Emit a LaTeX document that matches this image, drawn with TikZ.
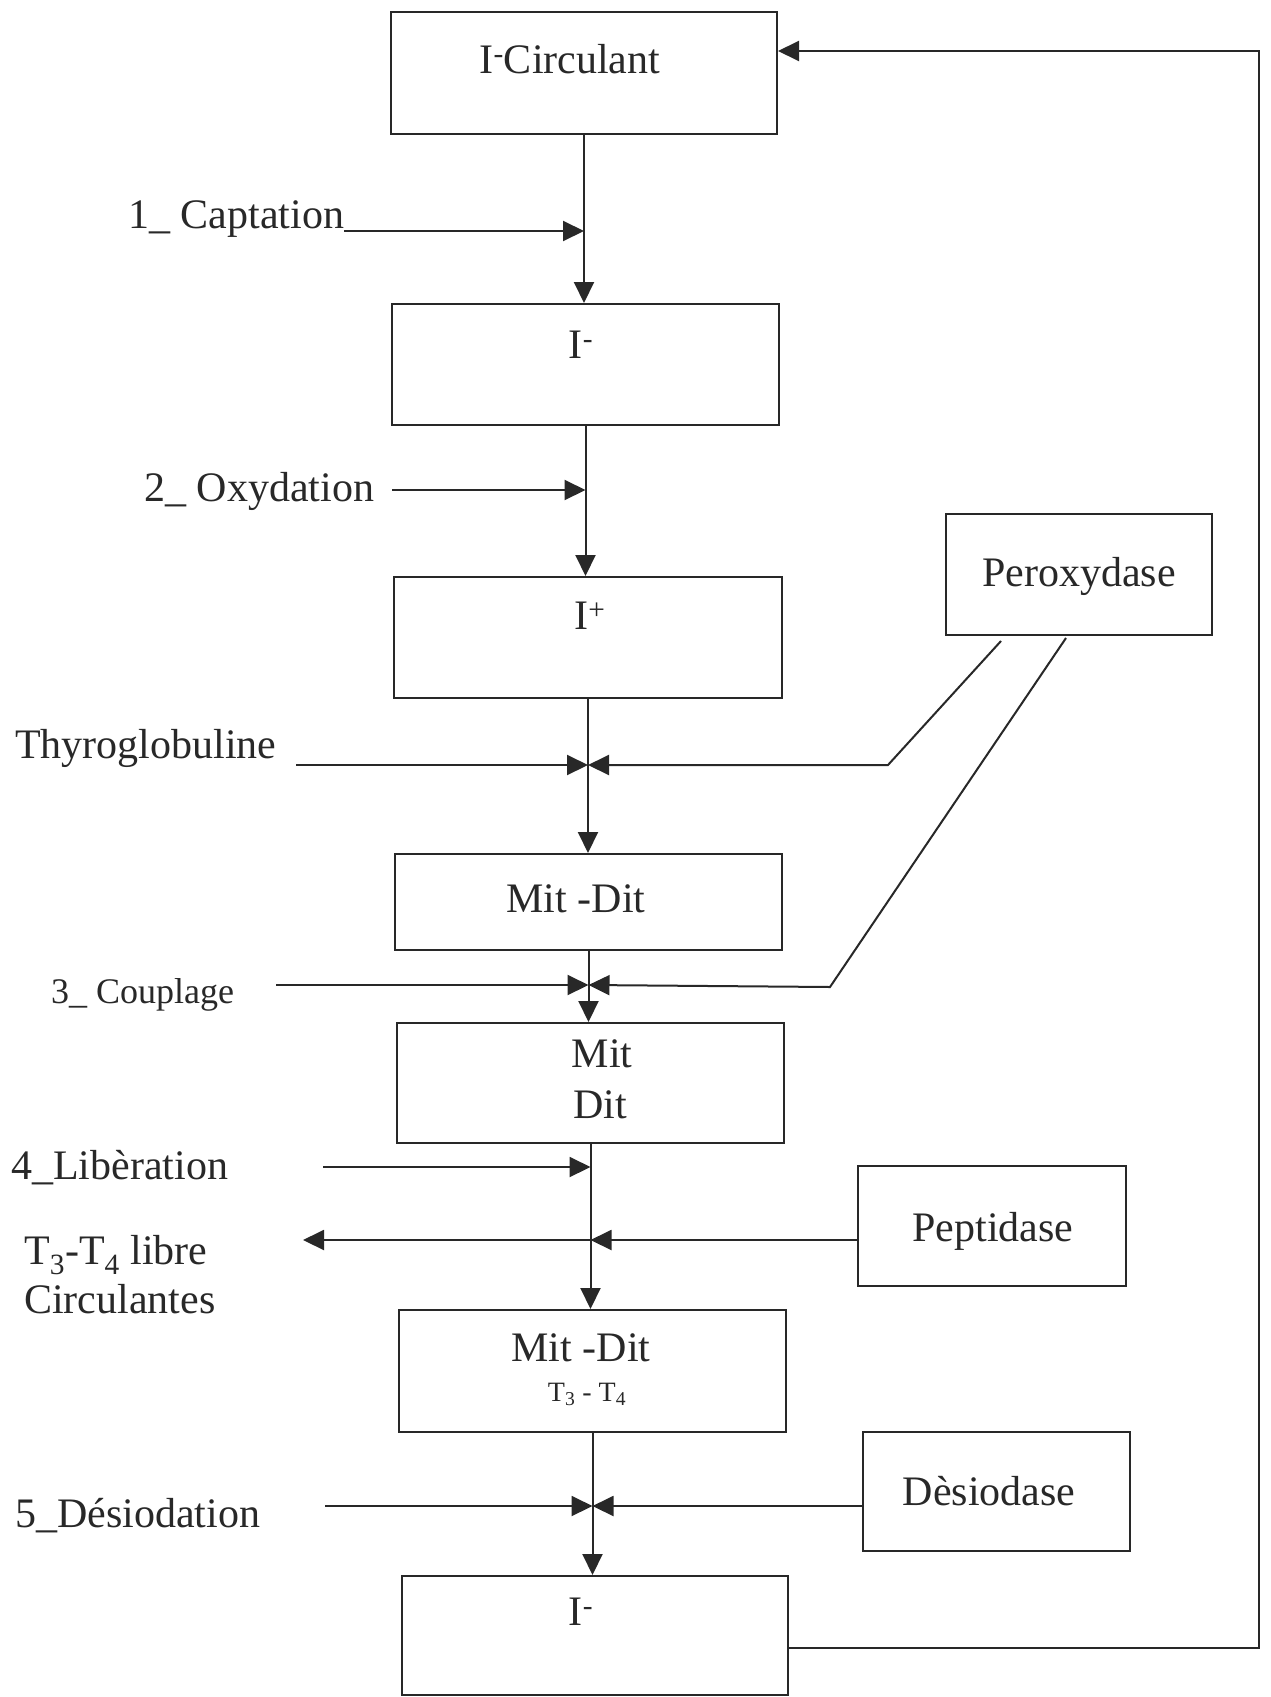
\documentclass[tikz,border=0pt]{standalone}
\usepackage{fontspec}
\setmainfont{Liberation Serif}
\usetikzlibrary{arrows.meta,calc}
\definecolor{inkc}{RGB}{40,40,40}
\begin{document}
\begin{tikzpicture}[x=1pt,y=-1pt,
  ink/.style={draw=inkc, line width=2pt},
  box/.style={ink, rectangle, inner sep=0pt},
  arr/.style={ink, -{Triangle[length=21pt,width=20pt]}},
  lbl/.style={inner sep=0pt, text=inkc, font=\fontsize{42}{50}\selectfont},
  small/.style={inner sep=0pt, text=inkc, font=\fontsize{36}{42}\selectfont},
  tiny/.style={inner sep=0pt, text=inkc, font=\fontsize{28}{32}\selectfont}
]
\useasboundingbox[fill=white] (0,0) rectangle (1271,1697);

% main boxes
\node[box, minimum width=386pt, minimum height=122pt] (b1) at (584,73) {};
\node[box, minimum width=387pt, minimum height=121pt] (b2) at (585.5,364.5) {};
\node[box, minimum width=388pt, minimum height=121pt] (b3) at (588,637.5) {};
\node[box, minimum width=387pt, minimum height=96pt] (b4) at (588.5,902) {};
\node[box, minimum width=387pt, minimum height=120pt] (b5) at (590.5,1083) {};
\node[box, minimum width=387pt, minimum height=122pt] (b6) at (592.5,1371) {};
\node[box, minimum width=386pt, minimum height=119pt] (b7) at (595,1635.5) {};
% enzyme boxes
\node[box, minimum width=266pt, minimum height=121pt] (pero) at (1079,574.5) {};
\node[box, minimum width=268pt, minimum height=120pt] (pept) at (992,1226) {};
\node[box, minimum width=267pt, minimum height=119pt] (desi) at (996.5,1491.5) {};

% box texts
\node[lbl, anchor=base] (t1) at (570,73) {I\textsuperscript{-}Circulant};
\node[lbl, anchor=base] (t2) at (581,358) {I\textsuperscript{-}};
\node[lbl, anchor=base] (t3) at (590,629) {I\textsuperscript{+}};
\node[lbl, anchor=base] (t4) at (576,912) {Mit -Dit};
\node[lbl, anchor=base] (t5a) at (602,1067) {Mit};
\node[lbl, anchor=base] (t5b) at (600,1118) {Dit};
\node[lbl, anchor=base] (t6a) at (581,1361) {Mit -Dit};
\node[tiny, anchor=base] (t6b) at (587,1401) {T\textsubscript{3} - T\textsubscript{4}};
\node[lbl, anchor=base] (t7) at (581,1625) {I\textsuperscript{-}};
\node[lbl, anchor=base] (tpero) at (1079,586) {Peroxydase};
\node[lbl, anchor=base] (tpept) at (993,1241) {Peptidase};
\node[lbl, anchor=base] (tdesi) at (989,1505) {Dèsiodase};

% side labels
\node[lbl, anchor=base west] (l1) at (128,228) {1\_ Captation};
\node[lbl, anchor=base west] (l2) at (144,501) {2\_ Oxydation};
\node[lbl, anchor=base west] (l3) at (15,758) {Thyroglobuline};
\node[small, anchor=base west] (l4) at (51,1003) {3\_ Couplage};
\node[lbl, anchor=base west] (l5) at (11,1179) {4\_Libèration};
\node[lbl, anchor=base west] (l6a) at (24,1264) {T\textsubscript{3}-T\textsubscript{4} libre};
\node[lbl, anchor=base west] (l6b) at (24,1313) {Circulantes};
\node[lbl, anchor=base west] (l7) at (15,1527) {5\_Désiodation};

% crossing points on the main vertical line
\coordinate (c1) at (584,231);                 % captation
\coordinate (c2) at (585.5,490);               % oxydation
\coordinate (c3) at (588,765);                 % thyroglobuline
\coordinate (c4) at (588.5,985);               % couplage
\coordinate (c5) at (590.5,1167);              % liberation
\coordinate (c6) at (590.5,1240);              % peptidase
\coordinate (c7) at (592.5,1506);              % desiodation

% free ends
\coordinate (s1) at (344,231);
\coordinate (s2) at (392,490);
\coordinate (s3) at (296,765);
\coordinate (s4) at (276,985);
\coordinate (s5) at (323,1167);
\coordinate (s6) at (303,1240);
\coordinate (s7) at (325,1506);
\coordinate (p1a) at (1001,641);
\coordinate (p1b) at (888,765);
\coordinate (p2a) at (1066,638);
\coordinate (p2b) at (830,987);
\coordinate (fbr) at (1259,1648);
\coordinate (fbt) at (1259,51);

% vertical flow
\draw[arr] (b1.south) -- (b1.south |- b2.north);
\draw[arr] (b2.south) -- (b2.south |- b3.north);
\draw[arr] (b3.south) -- (b3.south |- b4.north);
\draw[arr] (b4.south) -- (b4.south |- b5.north);
\draw[arr] (b5.south) -- (b5.south |- b6.north);
\draw[arr] (b6.south) -- (b6.south |- b7.north);

% side inputs
\draw[arr] (s1) -- (c1);
\draw[arr] (s2) -- (c2);
\draw[arr] (s3) -- (c3);
\draw[arr] (p1a) -- (p1b) -- (c3);
\draw[arr] (s4) -- (c4);
\draw[arr] (p2a) -- (p2b) -- (c4);
\draw[arr] (s5) -- (c5);
\draw[arr] (c6) -- (s6);
\draw[arr] (pept.west |- c6) -- (c6);
\draw[arr] (s7) -- (c7);
\draw[arr] (desi.west |- c7) -- (c7);

% feedback loop
\draw[arr] (b7.east |- fbr) -- (fbr) -- (fbt) -- (b1.east |- fbt);
\end{tikzpicture}
\end{document}
